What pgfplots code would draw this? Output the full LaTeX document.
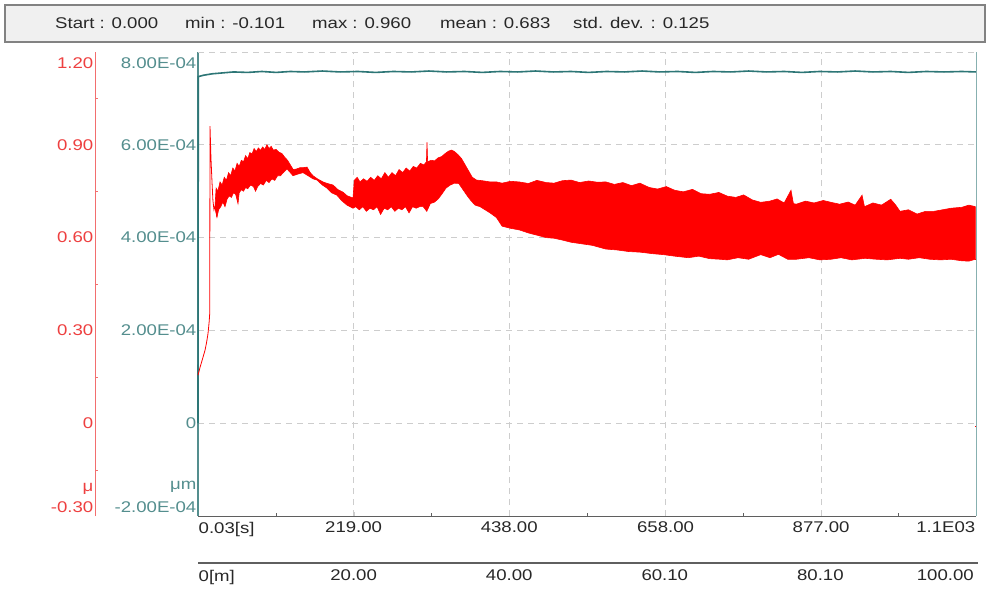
\documentclass[border=0pt]{standalone}
\usepackage{fontspec}
\setmainfont{Liberation Sans}[FakeStretch=1.2]
\usepackage{pgfplots}
\pgfplotsset{compat=1.18}
\definecolor{redline}{RGB}{255,0,0}
\definecolor{redlab}{RGB}{238,64,64}
\definecolor{redax}{RGB}{242,110,110}
\definecolor{tealline}{RGB}{45,118,118}
\definecolor{teallab}{RGB}{84,142,142}
\definecolor{gridc}{RGB}{205,205,205}
\definecolor{axc}{RGB}{95,95,95}
\definecolor{boxfill}{RGB}{240,240,240}
\definecolor{boxdraw}{RGB}{130,130,130}
\definecolor{txt}{RGB}{40,40,40}
\newcommand{\tf}{\fontsize{15.5}{15.5}\selectfont}
\begin{document}
\begin{tikzpicture}[x=1pt,y=1pt]
\useasboundingbox (0,0) rectangle (990,-595);
\fill[white] (0,0) rectangle (990,-595);
% statistics bar
\draw[fill=boxfill, draw=boxdraw, line width=1.5pt] (5,-5) rectangle (985,-42);
\node[anchor=west, font=\tf, text=txt, inner sep=0pt] at (55,-23) {Start : 0.000};
\node[anchor=west, font=\tf, text=txt, inner sep=0pt] at (185,-23) {min : -0.101};
\node[anchor=west, font=\tf, text=txt, inner sep=0pt] at (312,-23) {max : 0.960};
\node[anchor=west, font=\tf, text=txt, inner sep=0pt] at (440,-23) {mean : 0.683};
\node[anchor=west, font=\tf, text=txt, inner sep=0pt] at (573,-23) {std. dev. : 0.125};

% main (teal) axis
\begin{axis}[
  at={(198pt,-516pt)}, anchor=south west,
  scale only axis, width=778pt, height=464pt,
  xmin=0, xmax=1095, ymin=-2e-4, ymax=8e-4,
  clip=false,
  axis x line*=bottom, axis y line*=left,
  x axis line style={color=axc, line width=1pt},
  y axis line style={color=teallab, line width=1.5pt},
  xtick={219,438,658,877}, xticklabels={219.00,438.00,658.00,877.00},
  minor xtick={109.5,328.5,548,767.5,986},
  ytick={0,2e-4,4e-4,6e-4}, yticklabels={0,2.00E-04,4.00E-04,6.00E-04},
  extra y ticks={8e-4}, extra y tick labels={},
  scaled y ticks=false,
  grid=major,
  major grid style={color=gridc, dash pattern=on 6pt off 5pt, line width=0.9pt},
  tick align=inside,
  major tick length=4pt, minor tick length=3pt,
  xtick style={color=gridc},
  minor x tick style={color=axc},
  ytick style={draw=none},
  xticklabel style={font=\tf, text=txt, yshift=-2.5pt},
  yticklabel style={font=\tf, text=teallab, inner xsep=1.5pt},
  /pgf/number format/assume math mode=true,
]
\addplot[color=tealline, line width=1.6pt] coordinates {
(0,0) (0.4,7.47e-4) (8,7.50e-4) (20,7.53e-4) (35,7.55e-4) (50,7.57e-4) (70,7.56e-4) (90,7.58e-4)
(110,7.56e-4) (130,7.58e-4) (150,7.57e-4) (175,7.59e-4) (200,7.57e-4) (225,7.58e-4) (250,7.56e-4)
(275,7.58e-4) (300,7.57e-4) (325,7.59e-4) (350,7.57e-4) (375,7.58e-4) (400,7.56e-4) (425,7.58e-4)
(450,7.57e-4) (475,7.59e-4) (500,7.57e-4) (525,7.58e-4) (550,7.56e-4) (575,7.58e-4) (600,7.57e-4)
(625,7.59e-4) (650,7.57e-4) (675,7.58e-4) (700,7.56e-4) (725,7.58e-4) (750,7.57e-4) (775,7.59e-4)
(800,7.57e-4) (825,7.58e-4) (850,7.56e-4) (875,7.58e-4) (900,7.57e-4) (925,7.59e-4) (950,7.57e-4)
(975,7.58e-4) (1000,7.56e-4) (1025,7.58e-4) (1050,7.57e-4) (1075,7.58e-4) (1095,7.57e-4)};
\node[anchor=east, font=\tf, text=teallab, inner xsep=1.5pt, yshift=-11pt] at (rel axis cs:0,1) {8.00E-04};
\node[anchor=east, font=\tf, text=teallab, inner xsep=1.5pt, yshift=9pt] at (rel axis cs:0,0) {-2.00E-04};
\node[anchor=east, font=\tf, text=teallab, inner xsep=1.5pt, yshift=29pt] at (rel axis cs:0,0) {μm};
\node[anchor=north west, font=\tf, text=txt, inner xsep=0.5pt, yshift=-2.5pt] at (rel axis cs:0,0) {0.03[s]};
\node[anchor=north east, font=\tf, text=txt, inner xsep=0.5pt, yshift=-2.5pt] at (rel axis cs:1,0) {1.1E03};
\end{axis}

% red data overlay
\begin{axis}[
  at={(198pt,-516pt)}, anchor=south west,
  scale only axis, width=778pt, height=464pt,
  xmin=0, xmax=1095, ymin=-0.3, ymax=1.2,
  hide axis, clip=false,
]
\addplot[color=redline, line width=0.8pt] coordinates {
(0,0.155) (2.8,0.18) (6,0.205) (9.9,0.236) (12,0.26) (14.1,0.29) (15.8,0.33) (16.5,0.355)
(16.9,0.96) (18.2,0.86) (19.7,0.78) (21,0.72) (22.5,0.69) (23.9,0.70) (26.7,0.666)};
\addplot[draw=redline, fill=redline, line width=0.6pt] coordinates {
(23.9,0.70) (25.5,0.76) (28,0.75) (31,0.78) (34,0.77) (37,0.795) (40,0.785) (43,0.81) (46,0.80)
(49,0.825) (52,0.815) (55,0.84) (58,0.83) (61,0.85) (64,0.845) (67,0.865) (70,0.855) (73,0.875)
(76,0.87) (79,0.888) (82,0.878) (85,0.89) (88,0.882) (91,0.893) (94,0.885) (97,0.90) (100,0.888)
(103,0.895) (106,0.883) (110,0.885) (114,0.876) (118,0.872) (122,0.86) (126,0.85) (130,0.835)
(134,0.82) (139,0.822) (143.6,0.826)
(147.8,0.826) (153.4,0.828) (158,0.81) (161.9,0.80) (168,0.79) (175.9,0.78) (182,0.775) (190,0.77)
(197,0.755) (204,0.747) (210,0.735) (216,0.73) (218.2,0.73)
(220,0.785) (224,0.795) (228,0.78) (233,0.79) (238,0.782) (243,0.795) (248,0.785) (253,0.80)
(258,0.79) (263,0.81) (268,0.795) (273,0.81) (278,0.80) (283,0.82) (288,0.81) (293,0.825) (298,0.815)
(303,0.83) (308,0.825) (313,0.84) (318,0.835) (321.5,0.845) (322.3,0.908) (323.2,0.845) (328,0.85)
(333,0.848) (338,0.858) (343,0.862) (348,0.872) (353,0.88) (357,0.883) (361,0.878) (366,0.868)
(371,0.855) (376,0.835) (381,0.815) (386,0.795) (392,0.786) (400,0.784) (411,0.78)
(420,0.78) (428,0.776) (440,0.782) (452,0.78) (465,0.775) (477,0.785) (490,0.778) (501,0.776)
(513,0.784) (525,0.786) (537,0.778) (550,0.783) (562,0.779) (574,0.78) (586,0.772) (598,0.778)
(610,0.768) (622,0.776) (635,0.762) (647,0.757) (659,0.765) (671,0.753) (683,0.748) (696,0.756)
(708,0.742) (720,0.74) (733,0.746) (745,0.734) (757,0.73) (768,0.738) (780,0.722) (792,0.714)
(805,0.718) (815,0.725) (825,0.712) (834.6,0.753) (838,0.71) (842,0.708) (855,0.718) (867,0.712)
(880,0.72) (891,0.714) (903,0.708) (915,0.715) (925,0.705) (934.6,0.737) (938,0.70) (950,0.712)
(962,0.705) (975,0.724) (982,0.705) (988,0.685) (1000,0.69) (1012,0.676) (1024,0.685) (1036,0.685)
(1048,0.69) (1060,0.695) (1075,0.698) (1085,0.705) (1094,0.70)
(1094,0.53) (1085,0.524) (1075,0.525) (1060,0.53) (1045,0.528) (1030,0.53) (1015,0.535) (1000,0.53)
(988,0.533) (970,0.528) (955,0.53) (939,0.533) (920,0.528) (905,0.535) (891,0.53) (875,0.528)
(860,0.535) (842,0.53) (830,0.53) (817,0.546) (805,0.535) (792,0.545) (775,0.53) (760,0.535)
(745,0.528) (735,0.53) (720,0.532) (705,0.54) (690,0.535) (671,0.54) (655,0.545) (640,0.548)
(622,0.553) (606,0.555) (590,0.56) (574,0.563) (555,0.575) (540,0.58) (525,0.585) (513,0.592)
(501,0.598) (490,0.60) (477,0.608) (465,0.615) (452,0.625) (440,0.63) (428,0.637) (420,0.665)
(411,0.68) (404,0.69) (397,0.70) (390,0.705) (384,0.72) (379,0.735) (373,0.755) (367,0.775)
(361,0.776) (355,0.77) (349,0.76) (343,0.74) (338,0.725) (333,0.715) (327,0.71) (322,0.685)
(317,0.70) (312,0.70) (307,0.695) (302,0.70) (297,0.68) (292,0.70) (287,0.69) (282,0.695)
(277,0.685) (272,0.70) (267,0.69) (262,0.695) (257,0.675) (252,0.70) (247,0.69) (242,0.695)
(237,0.685) (232,0.70) (227,0.69) (222,0.70) (218.2,0.695)
(214,0.70) (209.7,0.705) (202,0.72) (195.6,0.737) (188,0.745) (181.6,0.76) (175,0.77) (167.5,0.786)
(161.9,0.79) (155,0.80) (147.8,0.81)
(140,0.805) (133.7,0.80) (130,0.81) (125.3,0.822) (120,0.81) (116,0.80) (112,0.80) (108,0.785)
(104,0.79) (100,0.778) (96,0.785) (92,0.77) (88,0.775) (84,0.765) (81,0.75) (78,0.765) (74,0.77)
(70,0.758) (67,0.762) (64,0.75) (61,0.755) (58,0.745) (56.3,0.71) (53,0.74) (50,0.745) (47,0.73)
(44,0.735) (41,0.725) (38,0.70) (35,0.715) (32,0.70) (29,0.69) (26.7,0.666) (23.9,0.70)};
\addplot[color=redline, line width=0.8pt] coordinates {
(1093,0.53) (1095,0.53) (1095,-0.101) (1095,-0.01) (1093,-0.01)};
\draw[color=teallab!70, line width=0.8pt] (rel axis cs:1,0) -- (rel axis cs:1,1);
\end{axis}

% red scale axis
\begin{axis}[
  at={(95pt,-516pt)}, anchor=south west,
  scale only axis, width=10pt, height=464pt,
  xmin=0, xmax=1, ymin=-0.3, ymax=1.2,
  clip=false,
  axis x line=none, axis y line*=left,
  y axis line style={color=redax, line width=1pt},
  ytick={0,0.3,0.6,0.9}, yticklabels={0,0.30,0.60,0.90},
  minor ytick={-0.15,0.15,0.45,0.75,1.05},
  tick align=inside,
  major tick length=0pt, minor tick length=3pt,
  minor y tick style={color=redax},
  yticklabel style={font=\tf, text=redlab, inner xsep=1.5pt},
  /pgf/number format/assume math mode=true,
]
\addplot[draw=none] coordinates {(0,0)};
\node[anchor=east, font=\tf, text=redlab, inner xsep=1.5pt, yshift=-11pt] at (rel axis cs:0,1) {1.20};
\node[anchor=east, font=\tf, text=redlab, inner xsep=1.5pt, yshift=9pt] at (rel axis cs:0,0) {-0.30};
\node[anchor=east, font=\tf, text=redlab, inner xsep=1.5pt, yshift=27pt] at (rel axis cs:0,0) {μ};
\end{axis}

% distance axis
\begin{axis}[
  at={(198pt,-563pt)}, anchor=south west,
  scale only axis, width=780pt, height=5pt,
  xmin=0, xmax=100.26, ymin=0, ymax=1,
  clip=false,
  axis y line=none, axis x line*=bottom,
  x axis line style={color=axc, line width=1.2pt},
  xtick={20,40,60,80}, xticklabels={20.00,40.00,60.10,80.10},
  major tick length=0pt,
  xticklabel style={font=\tf, text=txt, yshift=-3.5pt},
  /pgf/number format/assume math mode=true,
]
\addplot[draw=none] coordinates {(0,0)};
\node[anchor=north west, font=\tf, text=txt, inner xsep=0.5pt, yshift=-3.5pt] at (rel axis cs:0,0) {0[m]};
\node[anchor=north east, font=\tf, text=txt, inner xsep=0.5pt, yshift=-3.5pt] at (axis cs:99.8,0) {100.00};
\end{axis}
\end{tikzpicture}
\end{document}
